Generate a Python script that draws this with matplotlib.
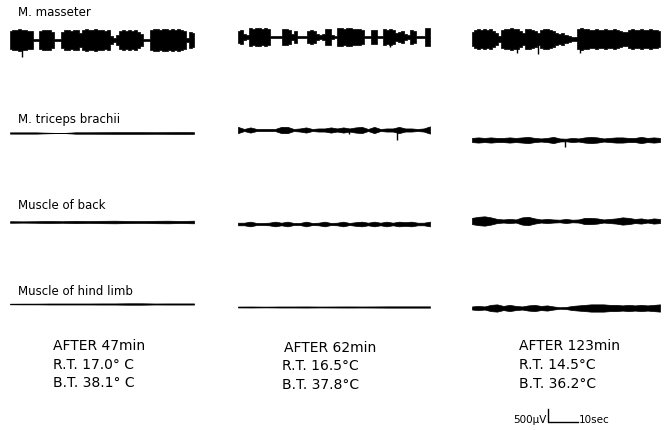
import matplotlib.pyplot as plt
import numpy as np

# calibration of the record: 500 uV bar and 10 s bar
CAL_UV = 500
CAL_S = 10
PX_PER_UV = 13 / CAL_UV
PX_PER_S = 3.0

muscles = ['M. masseter', 'M. triceps brachii', 'Muscle of back', 'Muscle of hind limb']

after = ['AFTER 47min', 'AFTER 62min', 'AFTER 123min']
room_t = ['R.T. 17.0° C', 'R.T. 16.5°C', 'R.T. 14.5°C']
body_t = ['B.T. 38.1° C', 'B.T. 37.8°C', 'B.T. 36.2°C']

# EMG envelope (peak amplitude, uV)
masseter_47 = [360, 400, 400, 440, 400, 400, 360, 360, 40, 40, 360, 400, 400, 400, 320,
               40, 40, 320, 400, 400, 360, 400, 400, 280, 400, 440, 400, 400, 440, 400,
               400, 360, 400, 160, 80, 200, 360, 400, 360, 400, 360, 400, 320, 240, 40,
               40, 400, 440, 440, 400, 440, 440, 400, 440, 400, 440, 400, 360, 80, 320, 280]
masseter_62 = [240, 280, 120, 80, 360, 320, 360, 360, 320, 360, 320, 40, 40, 40, 40,
               320, 320, 280, 120, 240, 40, 40, 40, 240, 280, 240, 120, 80, 120, 320,
               320, 80, 40, 360, 360, 320, 360, 360, 320, 320, 320, 280, 40, 40, 280,
               280, 40, 40, 320, 280, 320, 280, 160, 200, 240, 120, 80, 280, 240, 40,
               40, 40, 360, 360]
masseter_123 = [280, 360, 400, 360, 400, 360, 400, 320, 240, 120, 360, 400, 400, 440, 400,
                400, 320, 240, 400, 400, 360, 320, 240, 360, 400, 400, 360, 320, 240, 200,
                240, 160, 120, 80, 80, 400, 440, 400, 400, 360, 360, 400, 360, 360, 400,
                360, 360, 400, 360, 320, 280, 280, 360, 400, 360, 360, 400, 360, 360, 400,
                360, 360, 320]

triceps_47 = [25, 25, 25, 10, 0, 28, 28, 30, 32, 32, 32, 30, 32, 35, 32]
triceps_62 = [120, 40, 100, 40, 40, 40, 40, 120, 120, 40, 60, 100, 40, 60, 60, 100,
              60, 100, 60, 100, 120, 40, 120, 40, 60, 60, 120, 60, 60, 40, 60, 140]
triceps_123 = [80, 100, 80, 100, 80, 80, 100, 80, 100, 120, 80, 60, 80, 120, 60, 50,
               80, 60, 100, 120, 100, 60, 80, 100, 100, 80, 80, 120, 80, 100, 80]

back_47 = [30, 25, 30, 40, 30, 45, 35, 45, 50, 40, 35, 45, 50, 40, 50]
back_62 = [50, 50, 90, 40, 40, 50, 90, 50, 90, 40, 40, 90, 40, 50, 90, 40,
           50, 90, 40, 70, 90, 50, 90, 50, 90, 50, 90, 70, 90, 50, 50, 90]
back_123 = [120, 160, 180, 140, 80, 60, 80, 60, 140, 160, 100, 60, 80, 60, 50, 80,
            50, 60, 120, 120, 100, 60, 80, 100, 140, 120, 80, 100, 60, 100, 80]

hind_47 = [12, 15, 15, 20, 20, 20, 20, 22, 22, 28, 28, 20, 22, 22, 22]
hind_62 = [18, 20, 15, 20, 20, 22, 18, 20, 22, 20, 22, 25, 25, 25, 25]
hind_123 = [60, 80, 60, 120, 140, 80, 120, 80, 60, 100, 120, 80, 100, 60, 30, 40,
            80, 100, 120, 140, 140, 140, 120, 120, 100, 120, 100, 120, 100, 120, 140]

traces = [[masseter_47, masseter_62, masseter_123],
          [triceps_47, triceps_62, triceps_123],
          [back_47, back_62, back_123],
          [hind_47, hind_62, hind_123]]

# single spikes: (time from trace start, s; amplitude, uV; minus = downward)
spikes = {(0, 0): [(4, -650)],
          (0, 1): [(50.5, -380)],
          (0, 2): [(15, -540), (22, -560), (36, -520)],
          (1, 1): [(37, -160), (53, -400)],
          (1, 2): [(31, -260)]}

# layout (pixels)
col_x0 = [10, 238, 472]
col_x1 = [194, 430, 660]
row_y = [[41, 38, 40], [134, 131, 141], [223, 225, 222], [305, 308, 309]]
label_y = [13, 120, 206, 292]

fig = plt.figure(figsize=(6.64, 4.31), dpi=100)
ax = fig.add_axes([0, 0, 1, 1])
ax.set_xlim(0, 664)
ax.set_ylim(431, 0)
ax.axis('off')

for r in range(4):
    ax.text(18, label_y[r], muscles[r], fontsize=8.5, va='center', ha='left')
    for c in range(3):
        amp = np.array(traces[r][c]) * PX_PER_UV
        x = np.linspace(col_x0[c], col_x1[c], len(amp))
        y = row_y[r][c]
        # masseter bursts are blocky, the others spindle-like
        step = 'mid' if r == 0 else None
        ax.fill_between(x, y - amp, y + amp, step=step, color='black', lw=0.5)
        for t, a in spikes.get((r, c), []):
            xs = col_x0[c] + t * PX_PER_S
            ax.vlines(xs, y, y - a * PX_PER_UV, color='black', lw=1.0)

text_x = [[53, 53, 53], [284, 282, 282], [519, 519, 519]]
text_y = [[346, 365, 383], [348, 366, 385], [346, 365, 384]]
for c in range(3):
    for k, s in enumerate([after[c], room_t[c], body_t[c]]):
        ax.text(text_x[c][k], text_y[c][k], s, fontsize=10, va='center', ha='left')

# calibration bar
bx, by = 548, 423
ax.plot([bx, bx, bx + CAL_S * PX_PER_S], [by - CAL_UV * PX_PER_UV, by, by],
        color='black', lw=1.0)
ax.text(bx - 1, 420, '500µV', fontsize=7.5, va='center', ha='right')
ax.text(bx + CAL_S * PX_PER_S + 1, 420, '10sec', fontsize=7.5, va='center', ha='left')

fig.savefig('out.png', dpi=100)
